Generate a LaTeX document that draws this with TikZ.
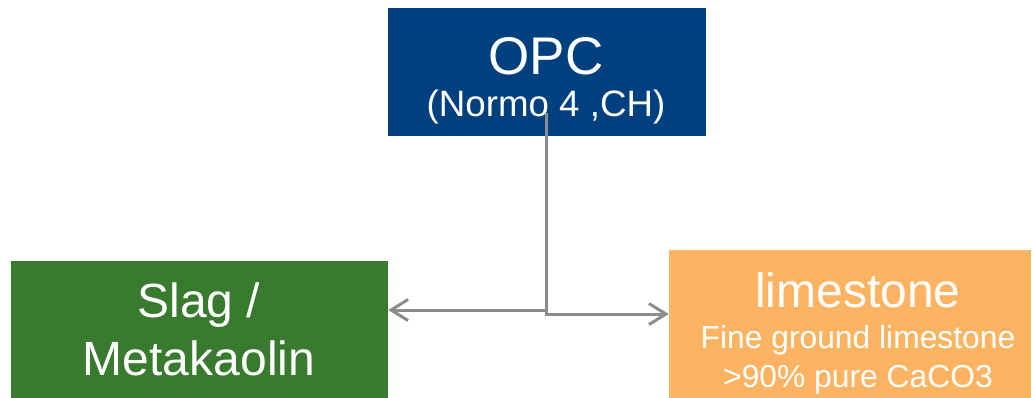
\documentclass[tikz,border=0pt]{standalone}
\usepackage{fontspec}
\setmainfont{Liberation Sans}
\usetikzlibrary{arrows.meta}
\definecolor{opcblue}{RGB}{0,64,127}
\definecolor{slaggreen}{RGB}{56,122,46}
\definecolor{limeorange}{RGB}{253,180,98}
\definecolor{conngray}{RGB}{140,140,140}
\tikzset{
  box/.style={rectangle, inner sep=0pt, draw=none},
  txt/.style={anchor=base, text=white, inner sep=0pt},
  conn/.style={draw=conngray, line width=3pt, line join=miter},
  tip/.style={-{Straight Barb[length=17pt,width=21pt,line width=3pt]}}
}
\begin{document}
\begin{tikzpicture}[x=1pt,y=-1pt]
\useasboundingbox (0,0) rectangle (1033,398);
% boxes
\node[box, fill=opcblue, minimum width=318pt, minimum height=128pt] (opc) at (547,72) {};
\node[box, fill=slaggreen, minimum width=377pt, minimum height=137pt] (slag) at (199.5,329.5) {};
\node[box, fill=limeorange, minimum width=362pt, minimum height=148pt] (lime) at (850,324) {};
% texts
\node[txt, font=\fontsize{53}{60}\selectfont] (t1) at (546,75) {OPC};
\node[txt, font=\fontsize{36.7}{40}\selectfont] (t2) at (546,117) {(Normo 4 ,CH)};
\node[txt, font=\fontsize{48}{56}\selectfont] (t3) at (199,317) {Slag /};
\node[txt, font=\fontsize{48}{56}\selectfont] (t4) at (199,375) {Metakaolin};
\node[txt, font=\fontsize{48}{56}\selectfont] (t5) at (858,307) {limestone};
\node[txt, font=\fontsize{31.8}{36}\selectfont] (t6) at (858,348) {Fine ground limestone};
\node[txt, font=\fontsize{31.8}{36}\selectfont] (t7) at (858,387) {>90\% pure CaCO3};
% connectors
\coordinate (src) at (546,113);
\coordinate (sltip) at (slag.east |- 0,310);
\coordinate (lmtip) at (lime.west |- 0,314);
\draw[conn, tip] (src) |- (sltip);
\draw[conn, tip] (src) |- (lmtip);
\end{tikzpicture}
\end{document}
